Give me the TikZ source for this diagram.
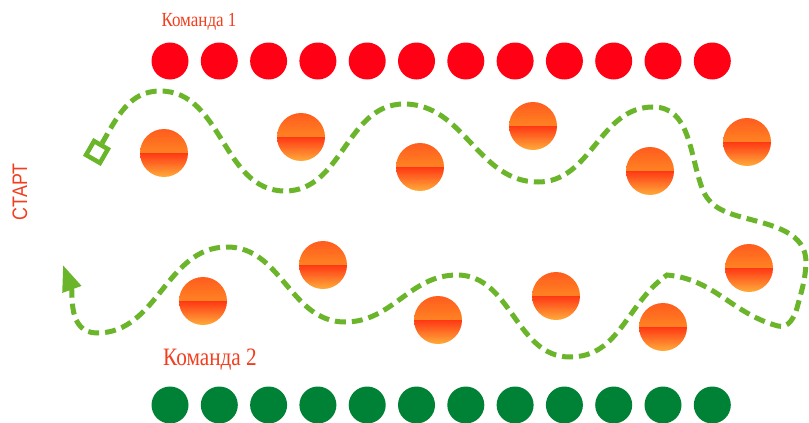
\documentclass[tikz,border=0pt]{standalone}
\usepackage{fontspec}
\setmainfont{Liberation Serif}
\newfontfamily\startfont{Liberation Sans}
\usetikzlibrary{arrows.meta}

\definecolor{teamred}{RGB}{255,0,20}
\definecolor{teamgreen}{RGB}{0,130,54}
\definecolor{routegreen}{RGB}{107,181,43}
\definecolor{labelred}{RGB}{242,62,30}
\definecolor{balltop}{RGB}{255,92,30}
\definecolor{ballmid}{RGB}{255,170,40}
\definecolor{ballred}{RGB}{255,56,20}
\definecolor{ballbottom}{RGB}{255,172,58}

\begin{document}
\begin{tikzpicture}[
x=1pt, y=-1pt,
chip/.style={circle, minimum size=37pt, inner sep=0pt},
ball/.style={circle, minimum size=48pt, inner sep=0pt,
  path picture={
    \shade[top color=balltop, bottom color=ballmid]
      (path picture bounding box.north west) rectangle (path picture bounding box.east);
    \shade[top color=ballred, bottom color=ballbottom]
      (path picture bounding box.west) rectangle (path picture bounding box.south east);
  }},
team/.style={text=labelred, anchor=base, xscale=0.85},
route/.style={routegreen, line width=5pt, dash pattern=on 11pt off 6pt}
]

\useasboundingbox (0,0) rectangle (809,423);

% ---------- TEAM 1 ----------
\node[team, font=\fontsize{20}{20}\selectfont] (team1) at (199,27) {Команда 1};
\foreach \i in {1,...,12}
  \node[chip, fill=teamred] (r\i) at ({170+49.3*(\i-1)},61) {};

% ---------- TEAM 2 ----------
\node[team, font=\fontsize{25}{25}\selectfont] (team2) at (210,365) {Команда 2};
\foreach \i in {1,...,12}
  \node[chip, fill=teamgreen] (g\i) at ({170+49.3*(\i-1)},405) {};

% balls, upper row
\node[ball] (b1) at (164,153) {};
\node[ball] (b2) at (301,137) {};
\node[ball] (b3) at (420,167) {};
\node[ball] (b4) at (533,126) {};
\node[ball] (b5) at (650,171) {};
\node[ball] (b6) at (747,142) {};

% balls, lower row
\node[ball] (b7) at (203,301) {};
\node[ball] (b8) at (323,265) {};
\node[ball] (b9) at (438,320) {};
\node[ball] (b10) at (556,296) {};
\node[ball] (b11) at (663,327) {};
\node[ball] (b12) at (749,268) {};

% ---------- START ----------
\node[rotate=90, xscale=0.85, text=labelred, font=\startfont\fontsize{21}{21}\selectfont] (startlabel) at (20,192) {СТАРТ};
\node[draw=routegreen, line width=4.5pt, minimum size=16pt, inner sep=0pt, rotate=-30] (start) at (97,152) {};

% route
\coordinate (finish) at (63,265);
\draw[route, -{Triangle[length=26pt, width=19pt]}] (start.north)
  to[out=60, in=180] (160,91)
  to[out=0, in=180] (285,191)
  to[out=0, in=180] (404,104)
  to[out=0, in=180] (538,182)
  to[out=0, in=180] (653,107)
  to[out=0, in=110] (702,188)
  to[out=-70, in=165] (745,218)
  to[out=-15, in=90] (806,262)
  to[out=-92, in=75] (797,308)
  to[out=-105, in=-15] (778,326)
  to[out=165, in=-5] (667,275)
  to[out=215, in=0] (570,357)
  to[out=180, in=0] (457,275)
  to[out=180, in=0] (345,322)
  to[out=180, in=0] (227,247)
  to[out=180, in=0] (97,333)
  to[out=180, in=-70] (finish);

\end{tikzpicture}
\end{document}
